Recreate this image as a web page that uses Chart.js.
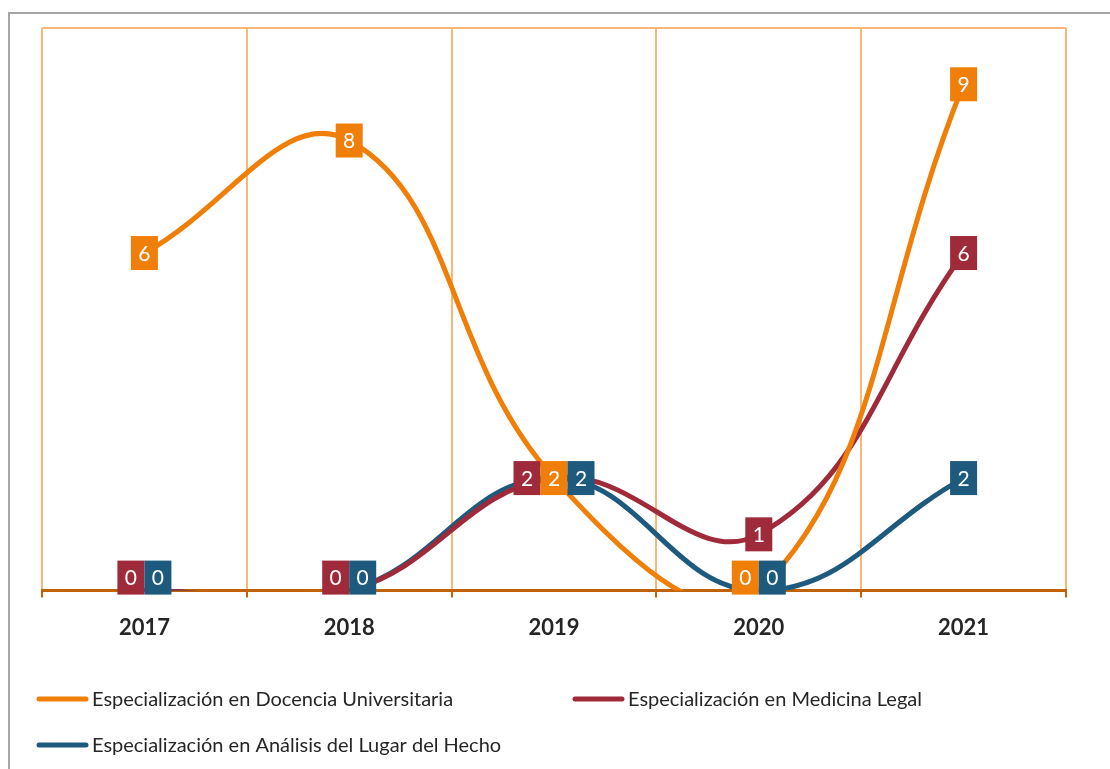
<!DOCTYPE html>
<html>
<head>
<meta charset="utf-8">
<script src="https://cdn.jsdelivr.net/npm/chart.js@4.4.0/dist/chart.umd.min.js"></script>
<style>
  html, body { margin: 0; padding: 0; background: #fff; overflow: hidden; }
  #marco { position: absolute; left: 8px; top: 12px; width: 1200px; height: 900px;
           border-left: 2px solid #A6A6A6; border-top: 2px solid #A6A6A6; }
  #contenedor { position: absolute; left: 0; top: 0; width: 1110px; height: 769px; }
</style>
</head>
<body>
<div id="marco"></div>
<div id="contenedor"><canvas id="grafico"></canvas></div>
<script>
/* globals Chart:false */

const anios = ['2017', '2018', '2019', '2020', '2021']
const docencia = [6, 8, 2, 0, 9]
const medicinaLegal = [0, 0, 2, 1, 6]
const lugarHecho = [0, 0, 2, 0, 2]
const nombres = [
  'Especialización en Docencia Universitaria',
  'Especialización en Medicina Legal',
  'Especialización en Análisis del Lugar del Hecho'
]

const NARANJA = '#F07F09'
const GRANATE = '#9F2A3A'
const AZUL = '#1D5A7D'
const REJILLA = '#F9B877'
const EJE = '#BF6208'

// etiquetas de datos: cajas de color con el valor en blanco
const etiquetas = {
  id: 'etiquetas',
  afterDatasetsDraw (chart) {
    const ctx = chart.ctx
    const area = chart.chartArea
    const orden = [1, 0, 2] // granate, naranja, azul cuando coinciden
    const ancho = 27
    const alto = 34
    ctx.save()
    ctx.font = '21px Lato'
    ctx.textAlign = 'center'
    ctx.textBaseline = 'middle'
    for (let i = 0; i < anios.length; i++) {
      const grupos = {}
      orden.forEach(d => {
        const v = chart.data.datasets[d].data[i]
        ;(grupos[v] = grupos[v] || []).push(d)
      })
      Object.keys(grupos).forEach(v => {
        const lista = grupos[v]
        lista.forEach((d, k) => {
          const p = chart.getDatasetMeta(d).data[i]
          const x = p.x - lista.length * ancho / 2 + k * ancho
          let y = p.y - alto / 2
          if (y + alto > area.bottom + 4) y = area.bottom + 4 - alto
          ctx.fillStyle = chart.data.datasets[d].borderColor
          ctx.fillRect(x, y, ancho, alto)
          ctx.fillStyle = '#fff'
          ctx.fillText(v, x + ancho / 2, y + alto / 2 + 1)
        })
      })
    }
    ctx.restore()
  }
}

// borde superior del área y leyenda en dos columnas
const marcoYLeyenda = {
  id: 'marcoYLeyenda',
  beforeDatasetsDraw (chart) {
    const ctx = chart.ctx
    const a = chart.chartArea
    ctx.save()
    ctx.strokeStyle = REJILLA
    ctx.lineWidth = 2
    ctx.beginPath()
    ctx.moveTo(a.left, a.top)
    ctx.lineTo(a.right, a.top)
    ctx.stroke()
    ctx.restore()
  },
  afterDraw (chart) {
    const ctx = chart.ctx
    const columnas = [37, 573]
    const filas = [699, 745]
    ctx.save()
    ctx.font = '20px Lato'
    ctx.textBaseline = 'middle'
    ctx.lineCap = 'round'
    chart.data.datasets.forEach((ds, i) => {
      const x = columnas[i % 2]
      const y = filas[Math.floor(i / 2)]
      ctx.strokeStyle = ds.borderColor
      ctx.lineWidth = 5
      ctx.beginPath()
      ctx.moveTo(x + 2, y)
      ctx.lineTo(x + 49, y)
      ctx.stroke()
      ctx.fillStyle = '#262626'
      ctx.fillText(ds.label, x + 55, y + 1)
    })
    ctx.restore()
  }
}

const serie = (label, data, color) => ({
  label,
  data,
  borderColor: color,
  backgroundColor: color,
  borderWidth: 5,
  tension: 0.42,
  capBezierPoints: false,
  pointRadius: 0,
  fill: false
})

new Chart(document.getElementById('grafico'), {
  type: 'line',
  data: {
    labels: anios,
    datasets: [
      serie(nombres[0], docencia, NARANJA),
      serie(nombres[1], medicinaLegal, GRANATE),
      serie(nombres[2], lugarHecho, AZUL)
    ]
  },
  options: {
    responsive: true,
    maintainAspectRatio: false,
    animation: false,
    layout: { padding: { left: 42, right: 44, top: 28, bottom: 111 } },
    scales: {
      x: {
        offset: true,
        grid: {
          offset: true,
          color: REJILLA,
          lineWidth: 2,
          tickColor: EJE,
          tickLength: 7
        },
        border: { color: EJE, width: 3 },
        ticks: {
          color: '#262626',
          padding: 17,
          font: { family: 'Lato', size: 22, weight: 'bold' }
        }
      },
      y: {
        display: false,
        min: 0,
        max: 10
      }
    },
    plugins: {
      legend: { display: false },
      tooltip: { enabled: false }
    }
  },
  plugins: [etiquetas, marcoYLeyenda]
})
</script>
</body>
</html>
